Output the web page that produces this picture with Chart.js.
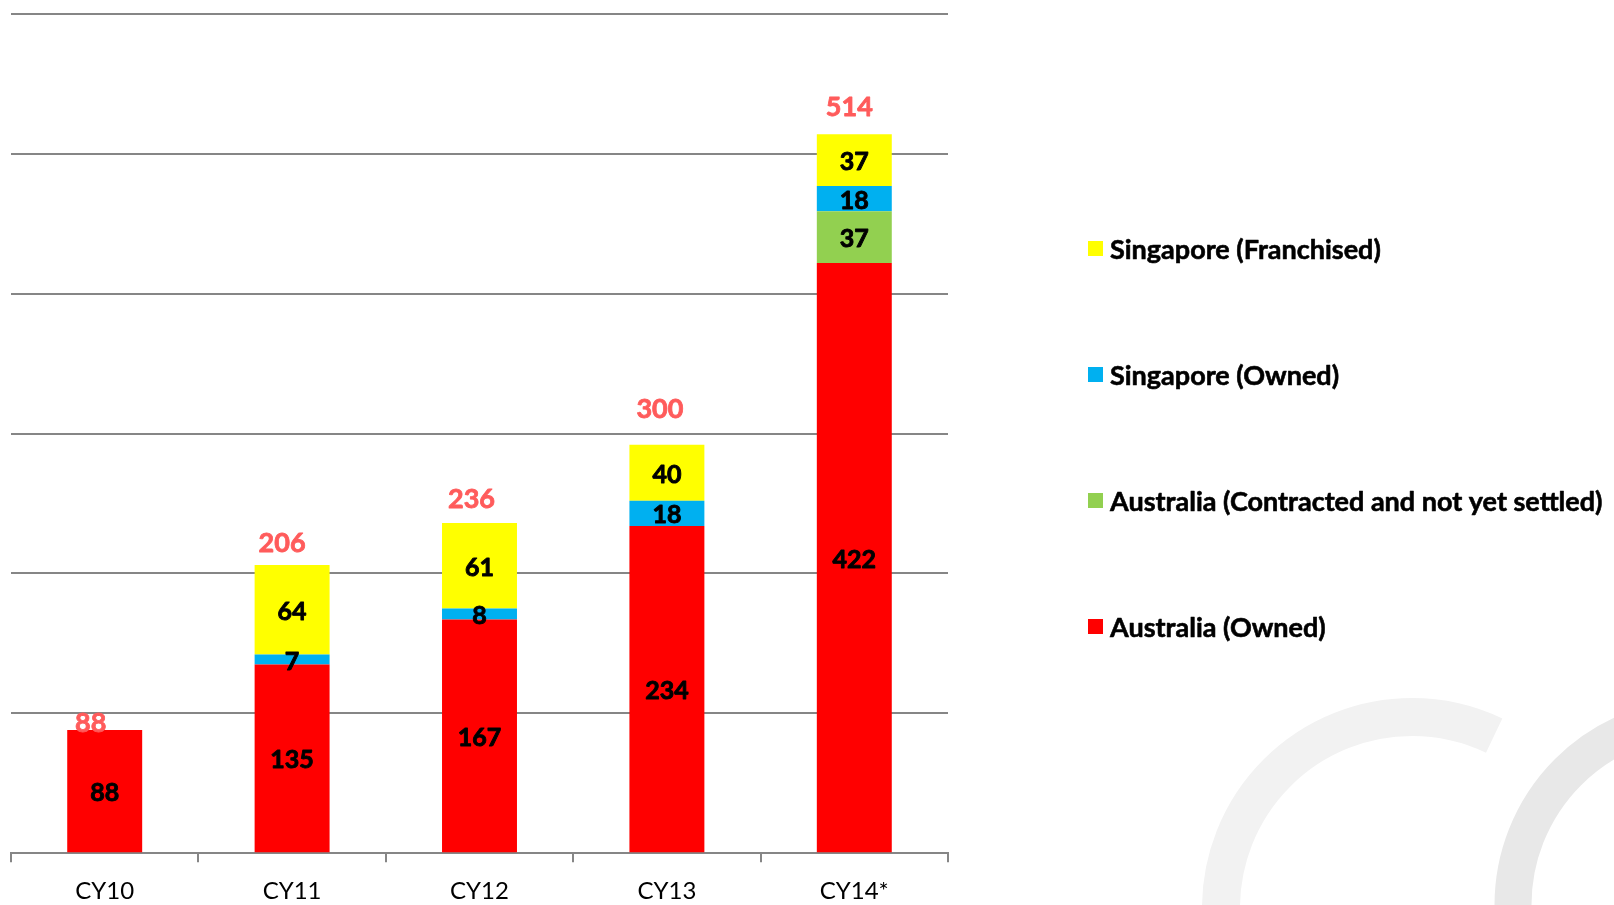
<!DOCTYPE html>
<html>
<head>
<meta charset="utf-8">
<script src="https://cdn.jsdelivr.net/npm/chart.js@4.4.1/dist/chart.umd.min.js"></script>
<style>
  html, body { margin: 0; padding: 0; background: #ffffff; overflow: hidden; }
  #wrap { width: 1614px; height: 905px; position: relative; }
</style>
</head>
<body>
<div id="wrap"><canvas id="c" width="1614" height="905"></canvas></div>
<script>
// ---- data ----
const categories = ['CY10', 'CY11', 'CY12', 'CY13', 'CY14*'];
const australiaOwned = [88, 135, 167, 234, 422];
const australiaContracted = [0, 0, 0, 0, 37];
const singaporeOwned = [0, 7, 8, 18, 18];
const singaporeFranchised = [0, 64, 61, 40, 37];
const totals = [88, 206, 236, 300, 514];
const seriesNames = ['Australia (Owned)', 'Australia (Contracted and not yet settled)', 'Singapore (Owned)', 'Singapore (Franchised)'];
const yTickValues = [0, 100, 200, 300, 400, 500, 600];

// ---- styles ----
const FONT = 'Lato, Carlito, "Liberation Sans", sans-serif';
const colors = ['#FF0000', '#92D050', '#00B0F0', '#FFFF00'];
const gridColor = '#868686';
// label nudges (pixels) relative to the scale position of each total
const totalLabelLift = [7, 22, 24, 24, 27];
const totalLabelShift = [-14, -10, -8, -7, -5];

const watermark = {
  id: 'watermark',
  beforeDraw(chart) {
    const ctx = chart.ctx;
    ctx.save();
    ctx.lineCap = 'butt';
    ctx.strokeStyle = '#F2F2F2';
    ctx.lineWidth = 38;
    ctx.beginPath();
    ctx.arc(1412, 908, 191, Math.PI, 5.157);
    ctx.stroke();
    ctx.strokeStyle = '#E8E8E8';
    ctx.lineWidth = 37;
    ctx.beginPath();
    ctx.arc(1701, 905, 188, Math.PI, 2 * Math.PI);
    ctx.stroke();
    ctx.restore();
  }
};

function boldText(ctx, s, x, y, w) {
  ctx.lineWidth = w;
  ctx.strokeStyle = ctx.fillStyle;
  ctx.lineJoin = 'round';
  ctx.strokeText(s, x, y);
  ctx.fillText(s, x, y);
}

const labelsPlugin = {
  id: 'valueLabels',
  afterDatasetsDraw(chart) {
    const ctx = chart.ctx;
    const yScale = chart.scales.y;
    ctx.save();
    ctx.textAlign = 'center';
    ctx.textBaseline = 'middle';
    ctx.font = 'bold 25px ' + FONT;
    ctx.fillStyle = '#000000';
    chart.data.datasets.forEach((ds, di) => {
      const meta = chart.getDatasetMeta(di);
      meta.data.forEach((bar, i) => {
        const v = ds.data[i];
        if (!v) return;
        const p = bar.getProps(['x', 'y', 'base'], true);
        boldText(ctx, String(v), p.x, (p.y + p.base) / 2 + 2, 0.9);
      });
    });
    // totals
    ctx.font = 'bold 27px ' + FONT;
    ctx.fillStyle = '#FF5B5B';
    const meta0 = chart.getDatasetMeta(0);
    totals.forEach((t, i) => {
      const x = meta0.data[i].x + totalLabelShift[i];
      const y = yScale.getPixelForValue(t) - totalLabelLift[i];
      boldText(ctx, String(t), x, y, 0.8);
    });
    ctx.restore();
  }
};

const legendPlugin = {
  id: 'sideLegend',
  afterDraw(chart) {
    const ctx = chart.ctx;
    ctx.save();
    ctx.textAlign = 'left';
    ctx.textBaseline = 'middle';
    ctx.font = 'bold 27px ' + FONT;
    const n = chart.data.datasets.length;
    for (let k = 0; k < n; k++) {
      const ds = chart.data.datasets[n - 1 - k];
      const cy = 249 + k * 126;
      ctx.fillStyle = ds.backgroundColor;
      ctx.fillRect(1088, cy - 8, 15, 15);
      ctx.fillStyle = '#000000';
      boldText(ctx, ds.label, 1110, cy + 1, 0.6);
    }
    ctx.restore();
  }
};

const dataSeries = [australiaOwned, australiaContracted, singaporeOwned, singaporeFranchised];

new Chart(document.getElementById('c'), {
  type: 'bar',
  data: {
    labels: categories,
    datasets: dataSeries.map((d, i) => ({
      label: seriesNames[i],
      data: d,
      backgroundColor: colors[i],
      borderWidth: 0,
      categoryPercentage: 0.8,
      barPercentage: 0.5
    }))
  },
  options: {
    responsive: false,
    devicePixelRatio: 1,
    animation: false,
    layout: { padding: { left: 11, right: 666, top: 14, bottom: -16 } },
    plugins: {
      legend: { display: false },
      tooltip: { enabled: false }
    },
    scales: {
      x: {
        stacked: true,
        offset: true,
        grid: {
          display: true,
          drawOnChartArea: false,
          drawTicks: true,
          tickLength: 9,
          color: gridColor,
          lineWidth: 2,
          offset: true
        },
        border: { display: true, color: gridColor, width: 2 },
        ticks: {
          color: '#000000',
          font: { family: FONT, size: 24 },
          padding: 15
        }
      },
      y: {
        stacked: true,
        min: 0,
        max: 600,
        afterBuildTicks(scale) { scale.ticks = yTickValues.map(v => ({ value: v })); },
        grid: { color: gridColor, lineWidth: 2, drawTicks: false },
        border: { display: false },
        ticks: { display: false }
      }
    }
  },
  plugins: [watermark, labelsPlugin, legendPlugin]
});
</script>
</body>
</html>
